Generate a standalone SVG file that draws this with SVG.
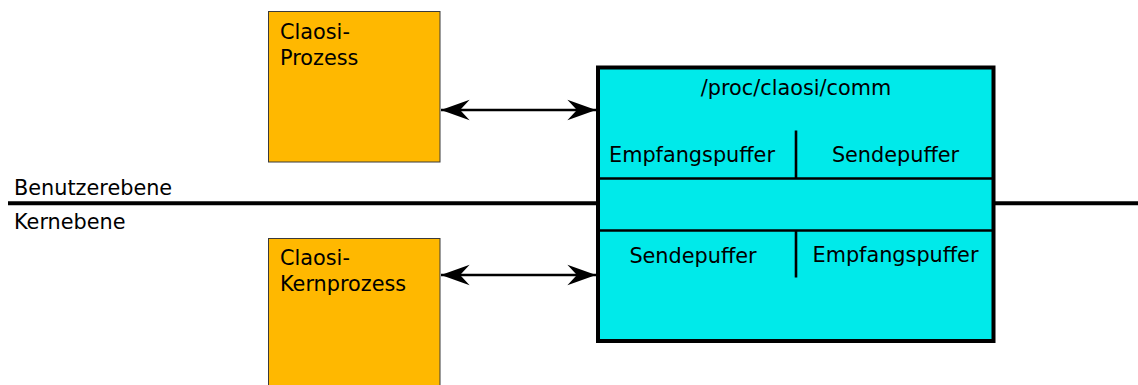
<svg xmlns="http://www.w3.org/2000/svg" width="1138" height="385" viewBox="0 0 1138 385">
  <style>
    text { font-family: "DejaVu Sans", "Liberation Sans", sans-serif; font-size: 20.8px; fill: #000; }
    .proc { fill: #ffb800; stroke: #3a3a3a; stroke-width: 1; }
    .comm { fill: #00eaea; stroke: #000; stroke-width: 4; }
    .div { stroke: #000; stroke-width: 2.6; fill: none; }
    .level { stroke: #000; stroke-width: 4; fill: none; }
    .conn { stroke: #000; stroke-width: 2.5; fill: none; marker-start: url(#head); marker-end: url(#head); }
    .mid { text-anchor: middle; }
  </style>
  <defs>
    <marker id="head" markerUnits="userSpaceOnUse" markerWidth="30" markerHeight="30" viewBox="-20 -10 22 20" refX="0" refY="0" orient="auto-start-reverse" overflow="visible">
      <path d="M0,0 L-21,-7.5 L-14,0 L-21,7.5 Z" fill="#000"/>
    </marker>
  </defs>

  <!-- level separator between user space and kernel -->
  <g id="levels">
    <line class="level" x1="8" y1="203.3" x2="598" y2="203.3"/>
    <line class="level" x1="993" y1="203.3" x2="1138" y2="203.3"/>
    <text x="14" y="194.5">Benutzerebene</text>
    <text x="14" y="228.5">Kernebene</text>
  </g>

  <g id="user-process">
    <rect class="proc" x="268.5" y="11.5" width="171.5" height="150.5"/>
    <text x="280" y="38.5">Claosi-</text>
    <text x="280" y="64.5">Prozess</text>
  </g>

  <g id="kernel-process">
    <rect class="proc" x="268.5" y="238.5" width="171.5" height="160"/>
    <text x="280" y="265">Claosi-</text>
    <text x="280" y="291">Kernprozess</text>
  </g>

  <g id="comm-device">
    <rect class="comm" x="598" y="67.5" width="395.5" height="273.5"/>
    <line class="div" x1="598" y1="178.5" x2="993.5" y2="178.5"/>
    <line class="div" x1="598" y1="230.5" x2="993.5" y2="230.5"/>
    <line class="div" x1="796" y1="130.5" x2="796" y2="178.5"/>
    <line class="div" x1="796" y1="230.5" x2="796" y2="277.5"/>
    <text class="mid" x="796" y="95">/proc/claosi/comm</text>
    <text class="mid" x="692" y="162">Empfangspuffer</text>
    <text class="mid" x="895.5" y="162">Sendepuffer</text>
    <text class="mid" x="693" y="262.5">Sendepuffer</text>
    <text class="mid" x="895.5" y="261.5">Empfangspuffer</text>
  </g>

  <g id="connectors">
    <line class="conn" x1="441" y1="110" x2="596" y2="110"/>
    <line class="conn" x1="441" y1="275" x2="596" y2="275"/>
  </g>
</svg>
